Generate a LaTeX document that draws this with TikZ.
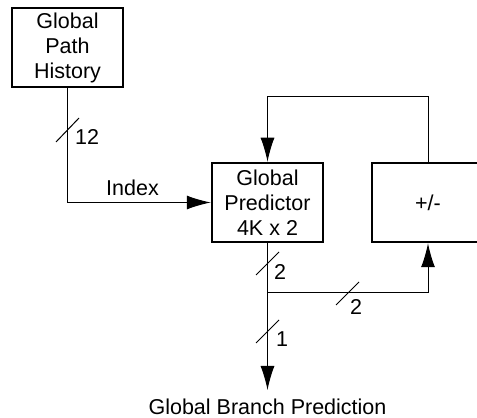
\documentclass[tikz,border=0pt]{standalone}
\usepackage{fontspec}
\setmainfont{Liberation Sans}
\usetikzlibrary{arrows.meta,positioning}

\begin{document}
\begin{tikzpicture}[
        x=1pt, y=1pt,
        font=\fontsize{21.5}{25}\selectfont,
        box/.style={
            draw=black,
            line width=2.5pt,
            align=center,
            minimum width=111pt,
            minimum height=79pt,
            inner sep=2pt
        },
        widebox/.style={
            box,
            minimum width=112pt
        },
        arrow/.style={
            -{Latex[length=24pt,width=14pt]},
            line width=1pt
        },
        wire/.style={
            line width=1pt
        },
        buswidth/.style={
            inner sep=0pt,
            anchor=west
        }
    ]
    \useasboundingbox (0,0) rectangle (477,418);

    % Blocks
    \node[box] (hist) at (67.5,370.5) {Global\\Path\\History};
    \node[box] (pred) at (267.5,215.5) {Global\\Predictor\\4K x 2};
    \node[widebox] (upd) at (428,215.5) {+/-};

    % History into predictor
    \draw[arrow] (hist.south) |- (pred.west);
    \node (index) at (132.5,230) {Index};
    \draw[wire] (56,276) -- (79,300);
    \node[buswidth] (w12) at (75,281) {12};

    % Update loop
    \coordinate (looptop) at (267.5,321);
    \draw[arrow] (upd.north) |- (looptop) -- (pred.north);

    \coordinate (split) at (267.5,125);
    \draw[arrow] (split) -| (upd.south);
    \draw[wire] (336,113) -- (359,136);
    \node[buswidth] (w2b) at (350,111) {2};

    % Prediction out
    \coordinate (out) at (267.5,28);
    \draw[arrow] (pred.south) -- (out);
    \draw[wire] (256,143) -- (279,166);
    \node[buswidth] (w2a) at (274,146.5) {2};
    \draw[wire] (256,75) -- (279,98);
    \node[buswidth] (w1) at (276,79) {1};

    \node[anchor=base] (outlbl) at (267.5,3) {Global Branch Prediction};

\end{tikzpicture}
\end{document}
